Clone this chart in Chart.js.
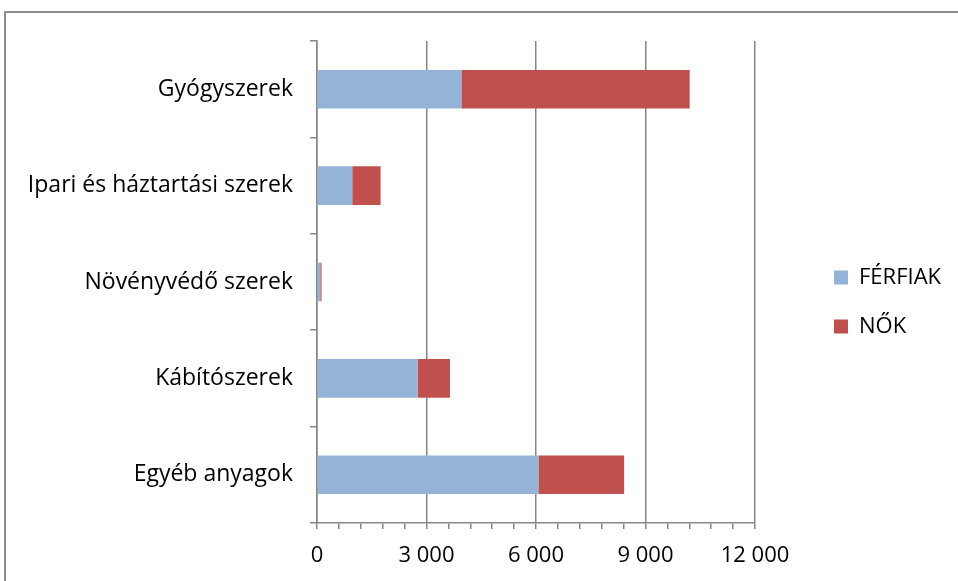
<!DOCTYPE html>
<html>
<head>
<meta charset="utf-8">
<script src="https://cdn.jsdelivr.net/npm/chart.js@4.4.1/dist/chart.umd.min.js"></script>
<style>
  html, body { margin: 0; padding: 0; background: #fff; }
  #wrap { position: relative; width: 958px; height: 581px; overflow: hidden; }
  #frame { position: absolute; left: 4px; top: 11px; width: 1000px; height: 600px;
           border-left: 2px solid #8c8c8c; border-top: 2px solid #8c8c8c; }
  #chart { position: absolute; left: 0; top: 0; }
</style>
</head>
<body>
<div id="wrap">
  <div id="frame"></div>
  <canvas id="chart" width="958" height="581"></canvas>
</div>
<script>
// data
const categories = ['Gyógyszerek', 'Ipari és háztartási szerek', 'Növényvédő szerek', 'Kábítószerek', 'Egyéb anyagok'];
const ferfiak = [3955, 965, 90, 2765, 6065];
const nok = [6255, 777, 35, 878, 2350];
const xTicks = [0, 3000, 6000, 9000, 12000];

const fontFamily = '"Open Sans", Lato, sans-serif';
const gray = '#868686';

function fmt(v) {
    return String(v).replace(/\B(?=(\d{3})+(?!\d))/g, ' ');
}

// fixed legend width so the plot ends at 12 000 = x 755, then move it into place
const legendShift = {
    id: 'legendShift',
    afterInit(chart) {
        const l = chart.legend;
        const fit = l.fit.bind(l);
        l.fit = function () { fit(); this.width = 203; };
    },
    afterLayout(chart) {
        const l = chart.legend;
        const dx = 834 - (l.left + l.options.labels.padding);
        const dy = -9;
        l.left += dx; l.right += dx;
        l.top += dy; l.bottom += dy;
    }
};

new Chart(document.getElementById('chart'), {
    type: 'bar',
    data: {
        labels: categories,
        datasets: [
            { label: 'FÉRFIAK', data: ferfiak, backgroundColor: '#95b3d7' },
            { label: 'NŐK', data: nok, backgroundColor: '#c0504d' }
        ]
    },
    options: {
        indexAxis: 'y',
        responsive: false,
        animation: false,
        devicePixelRatio: 1,
        categoryPercentage: 1,
        barPercentage: 0.4,
        layout: { padding: { left: 10, top: 41, right: 0, bottom: 0 } },
        plugins: {
            tooltip: { enabled: false },
            legend: {
                position: 'right',
                labels: {
                    boxWidth: 14,
                    boxHeight: 14,
                    padding: 27,
                    color: '#000',
                    font: { family: fontFamily, size: 22 }
                }
            }
        },
        scales: {
            x: {
                stacked: true,
                min: 0,
                max: 12000,
                ticks: {
                    stepSize: 600,
                    autoSkip: false,
                    maxRotation: 0,
                    padding: 14,
                    color: '#000',
                    font: { family: fontFamily, size: 22 },
                    callback: v => xTicks.includes(v) ? fmt(v) : ''
                },
                grid: {
                    color: c => (c.tick && c.tick.value % 3000 === 0) ? gray : 'rgba(0,0,0,0)',
                    tickColor: gray,
                    tickLength: 6,
                    lineWidth: 1.5
                },
                border: { color: gray, width: 1.5 },
                afterFit: s => { s.height = 58; }
            },
            y: {
                stacked: true,
                ticks: {
                    padding: 17,
                    color: '#000',
                    font: { family: fontFamily, size: 23 }
                },
                grid: {
                    offset: true,
                    drawOnChartArea: false,
                    tickColor: gray,
                    tickLength: 7,
                    lineWidth: 1.5
                },
                border: { color: gray, width: 1.5 },
                afterFit: s => { s.width = 307; }
            }
        }
    },
    plugins: [legendShift]
});
</script>
</body>
</html>
